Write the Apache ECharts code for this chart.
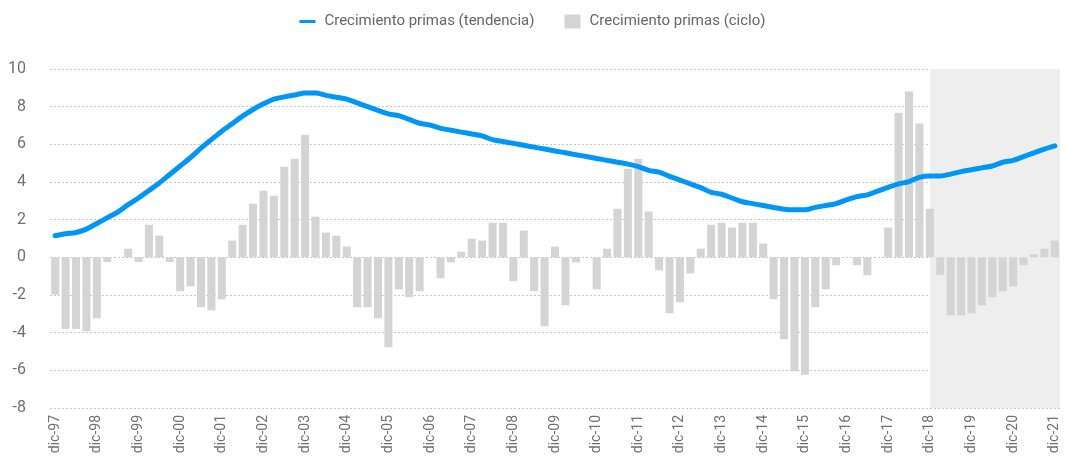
<!DOCTYPE html>
<html>
<head>
<meta charset="utf-8">
<script src="https://cdn.jsdelivr.net/npm/echarts@6/dist/echarts.min.js"></script>
<style>
  html, body { margin: 0; padding: 0; background: #fff; }
  #chart { width: 1065px; height: 459px; }
</style>
</head>
<body>
<div id="chart"></div>
<script>
// quarterly, dic-97 .. dic-21
const months = ['mar', 'jun', 'sep', 'dic']
const categories = ['dic-97']
for (let y = 98; y <= 121; y++) {
  const yy = String(y % 100).padStart(2, '0')
  months.forEach(m => categories.push(m + '-' + yy))
}

const trendValues = [
  1.15, 1.25, 1.32, 1.50, 1.80, 2.10, 2.40, 2.80, 3.15, 3.55,
  3.95, 4.40, 4.85, 5.30, 5.80, 6.25, 6.70, 7.10, 7.50, 7.85,
  8.15, 8.40, 8.52, 8.62, 8.72, 8.72, 8.60, 8.50, 8.40, 8.20,
  8.00, 7.80, 7.62, 7.52, 7.32, 7.12, 7.02, 6.85, 6.75, 6.65,
  6.55, 6.45, 6.25, 6.15, 6.05, 5.95, 5.85, 5.75, 5.65, 5.55,
  5.45, 5.35, 5.25, 5.15, 5.05, 4.95, 4.82, 4.62, 4.52, 4.30,
  4.10, 3.90, 3.70, 3.45, 3.35, 3.15, 2.95, 2.85, 2.75, 2.65,
  2.55, 2.52, 2.52, 2.65, 2.75, 2.85, 3.05, 3.22, 3.32, 3.52,
  3.72, 3.90, 4.02, 4.25, 4.32, 4.32, 4.42, 4.55, 4.65, 4.75,
  4.85, 5.05, 5.15, 5.35, 5.55, 5.75, 5.92
]

const cycleValues = [
  -1.98, -3.80, -3.80, -3.93, -3.24, -0.25, 0, 0.46, -0.25, 1.73,
  1.15, -0.25, -1.80, -1.54, -2.65, -2.81, -2.23, 0.89, 1.73, 2.85,
  3.54, 3.27, 4.81, 5.24, 6.51, 2.16, 1.31, 1.15, 0.57, -2.65,
  -2.65, -3.24, -4.78, -1.70, -2.12, -1.80, 0, -1.11, -0.27, 0.30,
  0.99, 0.89, 1.84, 1.84, -1.27, 1.42, -1.80, -3.66, 0.57, -2.55,
  -0.27, 0, -1.70, 0.46, 2.58, 4.71, 5.24, 2.43, -0.69, -2.97,
  -2.39, -0.85, 0.46, 1.73, 1.84, 1.58, 1.84, 1.84, 0.73, -2.23,
  -4.35, -6.05, -6.23, -2.65, -1.70, -0.42, 0, -0.42, -0.95, 0,
  1.58, 7.68, 8.80, 7.10, 2.58, -0.95, -3.08, -3.08, -2.97, -2.55,
  -2.12, -1.80, -1.54, -0.42, 0.16, 0.46, 0.89
]

// shaded forecast period
const forecastStart = 'dic-18'

const chart = echarts.init(document.getElementById('chart'))
chart.setOption({
  animation: false,
  textStyle: { fontFamily: 'Roboto, sans-serif' },
  legend: {
    top: 9,
    left: 'center',
    itemGap: 30,
    itemWidth: 16,
    itemHeight: 14,
    textStyle: { color: '#666', fontSize: 15, padding: [0, 0, 0, 4] },
    data: [
      { name: 'Crecimiento primas (tendencia)', icon: 'path://M0,0H16V3H0Z' },
      { name: 'Crecimiento primas (ciclo)', icon: 'rect' }
    ]
  },
  grid: { left: 50, right: 5, top: 69, bottom: 51 },
  xAxis: {
    type: 'category',
    data: categories,
    axisLine: { show: false },
    axisTick: { show: false },
    axisLabel: {
      interval: 3,
      rotate: 90,
      color: '#707070',
      fontSize: 14,
      margin: 7
    }
  },
  yAxis: {
    type: 'value',
    min: -8,
    max: 10,
    interval: 2,
    axisLabel: { color: '#707070', fontSize: 16, margin: 24 },
    splitLine: { lineStyle: { color: '#c8c8c8', type: [2, 2], width: 1 } }
  },
  series: [
    {
      name: 'Crecimiento primas (ciclo)',
      type: 'bar',
      data: cycleValues,
      barWidth: 8,
      itemStyle: { color: '#d4d4d4' },
      z: 2
    },
    {
      name: 'Crecimiento primas (tendencia)',
      type: 'line',
      data: trendValues,
      symbol: 'none',
      smooth: 0.3,
      lineStyle: { color: '#0096f7', width: 5, cap: 'round', join: 'round' },
      itemStyle: { color: '#0096f7' },
      markArea: {
        silent: true,
        z: 0,
        itemStyle: { color: '#eeeeee' },
        data: [[{ xAxis: forecastStart }, { xAxis: Infinity }]]
      },
      z: 3
    }
  ]
})
</script>
</body>
</html>
